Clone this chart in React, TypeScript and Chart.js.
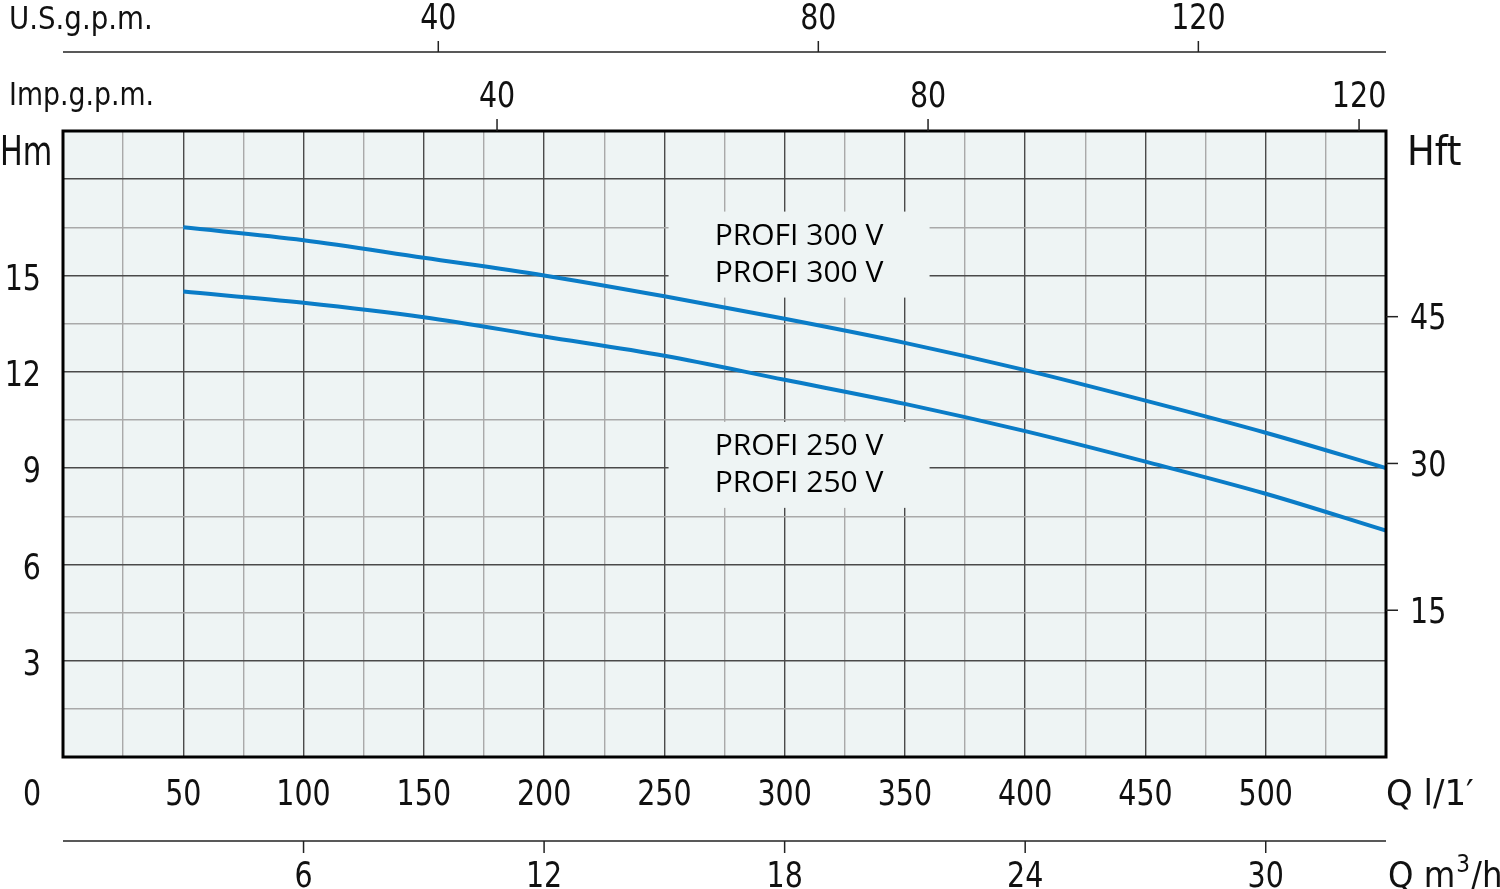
import React, { useEffect, useRef } from 'react';
import { Chart, registerables } from 'chart.js';

Chart.register(...registerables);

// ---- data ----
const flowLpm = [50, 100, 150, 200, 250, 300, 350, 400, 450, 500, 550];
const profi300Head = [16.5, 16.1, 15.55, 15.0, 14.35, 13.65, 12.9, 12.05, 11.1, 10.1, 9.0];
const profi250Head = [14.5, 14.15, 13.7, 13.1, 12.5, 11.75, 11.0, 10.15, 9.2, 8.2, 7.05];
const curveNames = ['PROFI 300 V', 'PROFI 250 V'];
const labelFlow = [306, 306];
const labelHead = [15.65, 9.1];

const lpmTicks = [50, 100, 150, 200, 250, 300, 350, 400, 450, 500];
const hmTicks = [3, 6, 9, 12, 15];
const hftTicks = [15, 30, 45];
const m3hTicks = [6, 12, 18, 24, 30];
const impTicks = [40, 80, 120];
const usTicks = [40, 80, 120];

const AXIS_FONT = "'DejaVu Sans Condensed', 'DejaVu Sans', sans-serif";
const LABEL_FONT = "'Open Sans', 'Noto Sans', sans-serif";
const PLOT_BG = '#eef4f4';
const CURVE_COLOR = '#0a7cc7';
const SQ = 0.88;

function txt(ctx: any, s: string, x: number, y: number, align: string, sx: number) {
  ctx.save();
  ctx.translate(x, y);
  ctx.scale(sx, 1);
  ctx.textAlign = align;
  ctx.fillText(s, 0, 0);
  ctx.restore();
}

const decor = {
  id: 'pumpDecor',
  beforeDraw(chart: any) {
    const { ctx, chartArea: a } = chart;
    ctx.save();
    ctx.fillStyle = '#ffffff';
    ctx.fillRect(0, 0, chart.width, chart.height);
    ctx.fillStyle = PLOT_BG;
    ctx.fillRect(a.left, a.top, a.right - a.left, a.bottom - a.top);
    ctx.restore();
  },
  beforeDatasetsDraw(chart: any) {
    const { ctx } = chart;
    const x = chart.scales.x;
    const y = chart.scales.y;
    ctx.save();
    ctx.font = `30px ${LABEL_FONT}`;
    for (let i = 0; i < curveNames.length; i++) {
      const cx = x.getPixelForValue(labelFlow[i]);
      const cy = y.getPixelForValue(labelHead[i]);
      const w = 261;
      ctx.fillStyle = PLOT_BG;
      ctx.fillRect(cx - w / 2, cy - 43, w, 86);
      ctx.fillStyle = '#000';
      ctx.textAlign = 'center';
      ctx.textBaseline = 'middle';
      ctx.fillText(curveNames[i], cx, cy - 18);
      ctx.fillText(curveNames[i], cx, cy + 19);
    }
    ctx.restore();
  },
  afterDatasetsDraw(chart: any) {
    const { ctx, chartArea: a } = chart;
    const x = chart.scales.x;
    const y = chart.scales.y;
    const yFt = chart.scales.yFt;
    const xM3 = chart.scales.xM3;
    const xImp = chart.scales.xImp;
    const xUS = chart.scales.xUS;
    ctx.save();
    // frame
    ctx.strokeStyle = '#000';
    ctx.lineWidth = 3;
    ctx.strokeRect(a.left, a.top, a.right - a.left, a.bottom - a.top);

    ctx.fillStyle = '#111';
    ctx.strokeStyle = '#222';
    ctx.lineWidth = 1.5;
    ctx.textBaseline = 'alphabetic';

    // US gpm axis
    const usLineY = 52;
    ctx.beginPath();
    ctx.moveTo(a.left, usLineY);
    ctx.lineTo(a.right, usLineY);
    ctx.stroke();
    ctx.font = `32px ${AXIS_FONT}`;
    txt(ctx, 'U.S.g.p.m.', 9, 29, 'left', 0.96);
    ctx.font = `36px ${AXIS_FONT}`;
    for (const v of usTicks) {
      const px = xUS.getPixelForValue(v);
      ctx.beginPath();
      ctx.moveTo(px, usLineY - 11);
      ctx.lineTo(px, usLineY);
      ctx.stroke();
      txt(ctx, String(v), px, 29, 'center', SQ);
    }

    // Imp gpm axis
    ctx.font = `32px ${AXIS_FONT}`;
    txt(ctx, 'Imp.g.p.m.', 9, 105, 'left', 0.93);
    ctx.font = `36px ${AXIS_FONT}`;
    for (const v of impTicks) {
      const px = xImp.getPixelForValue(v);
      ctx.beginPath();
      ctx.moveTo(px, a.top - 12);
      ctx.lineTo(px, a.top);
      ctx.stroke();
      txt(ctx, String(v), px, 107, 'center', SQ);
    }

    // Hm / Hft titles
    ctx.font = `41px ${AXIS_FONT}`;
    txt(ctx, 'Hm', 0, 165, 'left', 0.82);
    txt(ctx, 'Hft', a.right + 21, 165, 'left', 1.0);

    // left Hm ticks
    ctx.font = `36px ${AXIS_FONT}`;
    ctx.textBaseline = 'middle';
    for (const v of hmTicks) {
      txt(ctx, String(v), 41, y.getPixelForValue(v) + 5, 'right', SQ);
    }
    // right Hft ticks
    for (const v of hftTicks) {
      const py = yFt.getPixelForValue(v);
      ctx.beginPath();
      ctx.moveTo(a.right, py);
      ctx.lineTo(a.right + 12, py);
      ctx.stroke();
      txt(ctx, String(v), a.right + 24, py + 3, 'left', SQ);
    }

    // bottom l/min labels
    ctx.textBaseline = 'alphabetic';
    txt(ctx, '0', 32, 805, 'center', SQ);
    for (const v of lpmTicks) {
      txt(ctx, String(v), x.getPixelForValue(v), 805, 'center', SQ);
    }
    txt(ctx, 'Q l/1\u2032', a.right, 805, 'left', 1.05);

    // m3/h axis
    const m3LineY = 841;
    ctx.beginPath();
    ctx.moveTo(a.left, m3LineY);
    ctx.lineTo(a.right, m3LineY);
    ctx.stroke();
    for (const v of m3hTicks) {
      const px = xM3.getPixelForValue(v);
      ctx.beginPath();
      ctx.moveTo(px, m3LineY);
      ctx.lineTo(px, m3LineY + 12);
      ctx.stroke();
      txt(ctx, String(v), px, 887, 'center', SQ);
    }
    ctx.textAlign = 'left';
    let tx = a.right + 2;
    ctx.fillText('Q m', tx, 887);
    tx += ctx.measureText('Q m').width;
    ctx.font = `24px ${AXIS_FONT}`;
    ctx.fillText('3', tx + 1, 872);
    tx += ctx.measureText('3').width + 2;
    ctx.font = `36px ${AXIS_FONT}`;
    ctx.fillText('/h', tx, 887);
    ctx.restore();
  },
};

export default function App() {
  const canvasRef = useRef<HTMLCanvasElement | null>(null);

  useEffect(() => {
    document.body.style.margin = '0';
    const canvas = canvasRef.current;
    if (!canvas) return;
    const majorX = (ctx: any) => (Math.round(ctx.tick.value) % 50 === 0 ? '#4a4a4a' : '#a9a9a9');
    const majorY = (ctx: any) => (Math.round(ctx.tick.value / 1.5) % 2 === 0 ? '#4a4a4a' : '#a9a9a9');
    const chart = new Chart(canvas, {
      type: 'line',
      data: {
        datasets: [
          {
            label: curveNames[0],
            data: flowLpm.map((q, i) => ({ x: q, y: profi300Head[i] })),
            borderColor: CURVE_COLOR,
            borderWidth: 4,
            pointRadius: 0,
            cubicInterpolationMode: 'monotone',
            fill: false,
          },
          {
            label: curveNames[1],
            data: flowLpm.map((q, i) => ({ x: q, y: profi250Head[i] })),
            borderColor: CURVE_COLOR,
            borderWidth: 4,
            pointRadius: 0,
            cubicInterpolationMode: 'monotone',
            fill: false,
          },
        ],
      },
      options: {
        animation: false,
        responsive: false,
        devicePixelRatio: 1,
        layout: { padding: { left: 63, right: 114, top: 131, bottom: 132 } },
        plugins: { legend: { display: false }, tooltip: { enabled: false } },
        scales: {
          x: {
            type: 'linear',
            min: 0,
            max: 550,
            border: { display: false },
            ticks: { display: false, stepSize: 25 },
            grid: { drawTicks: false, color: majorX, lineWidth: 1.4 },
          },
          y: {
            type: 'linear',
            min: 0,
            max: 19.5,
            border: { display: false },
            ticks: { display: false, stepSize: 1.5 },
            grid: { drawTicks: false, color: majorY, lineWidth: 1.4 },
          },
          yFt: { type: 'linear', position: 'right', display: false, min: 0, max: 19.5 / 0.3048 },
          xM3: { type: 'linear', position: 'bottom', display: false, min: 0, max: 550 * 0.06 },
          xImp: { type: 'linear', position: 'top', display: false, min: -0.28, max: 122.5 },
          xUS: { type: 'linear', position: 'top', display: false, min: 0.5, max: 139.75 },
        },
      } as any,
      plugins: [decor],
    });
    return () => chart.destroy();
  }, []);

  return (
    <div style={{ width: 1500, height: 889, position: 'relative' }}>
      <canvas ref={canvasRef} width={1500} height={889} style={{ display: 'block' }} />
    </div>
  );
}
